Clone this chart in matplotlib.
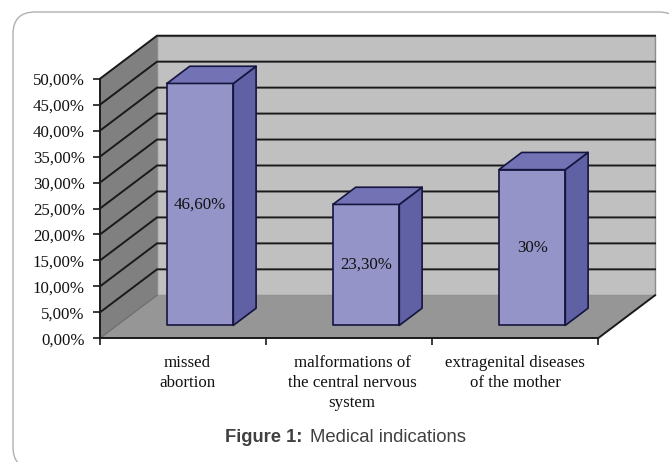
import matplotlib.pyplot as plt
from matplotlib.patches import FancyBboxPatch, Polygon
from matplotlib.transforms import ScaledTranslation

categories = ['missed\nabortion',
              'malformations of\nthe central nervous\nsystem',
              'extragenital diseases\nof the mother']
values = [46.6, 23.3, 30]
value_labels = ['46,60%', '23,30%', '30%']
y_ticks = [0, 5, 10, 15, 20, 25, 30, 35, 40, 45, 50]
y_tick_labels = ['0,00%', '5,00%', '10,00%', '15,00%', '20,00%', '25,00%',
                 '30,00%', '35,00%', '40,00%', '45,00%', '50,00%']

W, H = 669, 462
# depth of the fake 3d box, in data units
DEPTH_X = 57 / 166
DEPTH_Y = 43 / 5.192
BAR_W = 0.4
BAR_NEAR = 0.3
BAR_FAR = 0.7
EDGE = '#15153f'
LINE = '#1a1a1a'
TEXT = '#111111'
FONT = 12.2

plt.rcParams['font.family'] = ['Liberation Serif', 'DejaVu Serif']


def pt(x, y, d=0.0):
    """Data position pushed back by depth d (0 front, 1 back wall)."""
    return (x + d * DEPTH_X, y + d * DEPTH_Y)


def face(ax, pts, color, edge='none', lw=0, z=1):
    ax.add_patch(Polygon(pts, closed=True, facecolor=color, edgecolor=edge,
                         linewidth=lw, clip_on=False, zorder=z,
                         joinstyle='round'))


fig = plt.figure(figsize=(W / 100, H / 100), dpi=100)

# rounded frame behind everything, it runs off the right and bottom
bg = fig.add_axes([0, 0, 1, 1])
bg.set_xlim(0, W)
bg.set_ylim(H, 0)
bg.axis('off')
bg.add_patch(FancyBboxPatch((13, 12), 668, 457,
                            boxstyle='round,pad=0,rounding_size=22',
                            facecolor='white', edgecolor='#b0b0b0', linewidth=1))
title_bold = bg.text(225, 437, 'Figure 1:', family='Liberation Sans', weight='bold',
                     fontsize=13.2, color='#404040', va='center', ha='left')
fig.canvas.draw()
box = title_bold.get_window_extent()
bg.text(box.x1 + 8, 437, 'Medical indications', family='Liberation Sans',
        fontsize=13.3, color='#404040', va='center', ha='left')

ax = fig.add_axes([100 / W, (H - 338.3) / H, 498 / W, 259.6 / H])
ax.patch.set_visible(False)
ax.set_xlim(0, 3)
ax.set_ylim(0, 50)
top = y_ticks[-1]

# walls and floor
face(ax, [pt(0, 0, 1), pt(3, 0, 1), pt(3, top, 1), pt(0, top, 1)], '#c0c0c0', '#8c8c8c', 1)
face(ax, [pt(0, 0), pt(0, 0, 1), pt(0, top, 1), pt(0, top)], '#808080')
face(ax, [pt(0, 0), pt(3, 0), pt(3, 0, 1), pt(0, 0, 1)], '#969696')

for t in y_ticks[1:]:
    x_l, y_l = pt(0, t)
    x_m, y_m = pt(0, t, 1)
    x_r, y_r = pt(3, t, 1)
    ax.plot([x_l, x_m, x_r], [y_l, y_m, y_r], color=LINE, lw=1.4, clip_on=False, zorder=2,
            solid_joinstyle='miter')
ax.plot(*zip(pt(0, 0), pt(0, 0, 1)), color='#6a6a6a', lw=0.8, clip_on=False, zorder=2)
ax.plot(*zip(pt(3, 0), pt(3, 0, 1)), color=LINE, lw=1.4, clip_on=False, zorder=2)

# bars
for i, v in enumerate(values):
    x0 = i + 0.5 - BAR_W / 2
    x1 = i + 0.5 + BAR_W / 2
    face(ax, [pt(x0, 0, BAR_NEAR), pt(x1, 0, BAR_NEAR), pt(x1, v, BAR_NEAR), pt(x0, v, BAR_NEAR)],
         '#9494c8', EDGE, 1.2, 3)
    face(ax, [pt(x1, 0, BAR_NEAR), pt(x1, 0, BAR_FAR), pt(x1, v, BAR_FAR), pt(x1, v, BAR_NEAR)],
         '#6060a4', EDGE, 1.2, 3)
    face(ax, [pt(x0, v, BAR_NEAR), pt(x1, v, BAR_NEAR), pt(x1, v, BAR_FAR), pt(x0, v, BAR_FAR)],
         '#7272b4', EDGE, 1.2, 3)
    lx, ly = pt(i + 0.5, v / 2, BAR_NEAR)
    ax.text(lx, ly, value_labels[i], ha='center', va='center', fontsize=FONT,
            color=TEXT, zorder=4)

# axes and ticks
for name in ['top', 'right']:
    ax.spines[name].set_visible(False)
for name in ['left', 'bottom']:
    ax.spines[name].set_color(LINE)
    ax.spines[name].set_linewidth(1.4)
    ax.spines[name].set_zorder(5)
ax.set_yticks(y_ticks)
ax.set_yticklabels(y_tick_labels, fontsize=FONT, color=TEXT)
ax.set_xticks([0, 1, 2, 3])
ax.set_xticklabels([])
ax.set_xticks([0.5, 1.5, 2.5], minor=True)
ax.set_xticklabels(categories, minor=True, fontsize=FONT, color=TEXT, linespacing=1.32)
ax.tick_params(axis='y', length=5, width=1.2, color=LINE, pad=6)
ax.tick_params(axis='x', which='major', length=5, width=1.2, color=LINE)
ax.tick_params(axis='x', which='minor', length=0, pad=12)

# first two labels sit a bit right of their slot in the original
for lab, shift in zip(ax.get_xticklabels(minor=True), [4, 3, 0]):
    lab.set_transform(lab.get_transform() + ScaledTranslation(shift / 100, 0, fig.dpi_scale_trans))

fig.savefig('out.png', dpi=100)
